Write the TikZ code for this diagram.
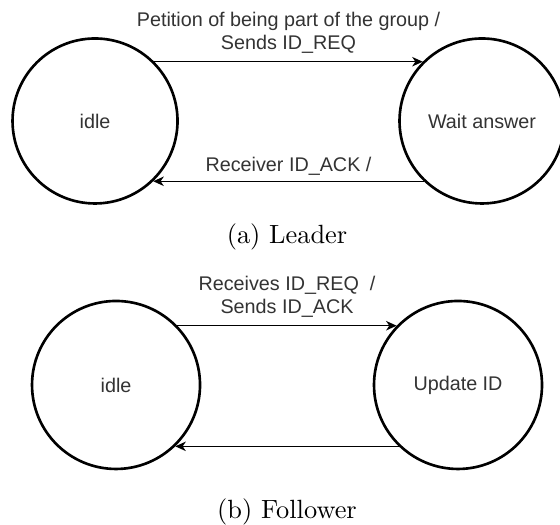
\documentclass[tikz,border=0pt]{standalone}
\usepackage{fontspec}
\newfontfamily\diagfont{Liberation Sans}
\usetikzlibrary{shapes.geometric, arrows, arrows.meta, positioning}

\begin{document}
\begin{tikzpicture}[
    state/.style={circle, draw, line width=1pt, minimum size=2.2cm, inner sep=0pt, text=black!80, font={\diagfont\fontsize{7.5}{8.7}\selectfont}},
    arrow/.style={line width=0.5pt, ->, >={Stealth[length=4pt, width=3.6pt, inset=1.2pt]}},
    translabel/.style={text=black!80, align=center, inner sep=1pt, font={\diagfont\fontsize{7.5}{8.7}\selectfont}},
    caption/.style={font=\normalsize}
]
\useasboundingbox (0,0) rectangle (7.467,7);

% Leader
\node[state] (lidle) at (1.267,5.387) {idle};
\node[state] (lwait) at (6.427,5.387) {Wait answer};
\node[caption] (capa) at (3.827,3.84) {(a) Leader};

\draw[arrow] (lidle.45) -- node[translabel, above=2pt] {Petition of being part of the group /\\Sends ID\_REQ} (lwait.135);
\draw[arrow] (lwait.-134) -- node[translabel, above=1pt] {Receiver ID\_ACK /} (lidle.-46);

% Follower
\node[state, minimum size=2.24cm] (fidle) at (1.547,1.867) {idle};
\node[state, minimum size=2.24cm] (fupd) at (6.107,1.867) {Update ID};
\node[caption] (capb) at (3.827,0.173) {(b) Follower};

\draw[arrow] (fidle.44) -- node[translabel, above=2pt] {Receives ID\_REQ\ \ /\\Sends ID\_ACK} (fupd.136);
\draw[arrow] (fupd.-134) -- (fidle.-46);

\end{tikzpicture}
\end{document}
